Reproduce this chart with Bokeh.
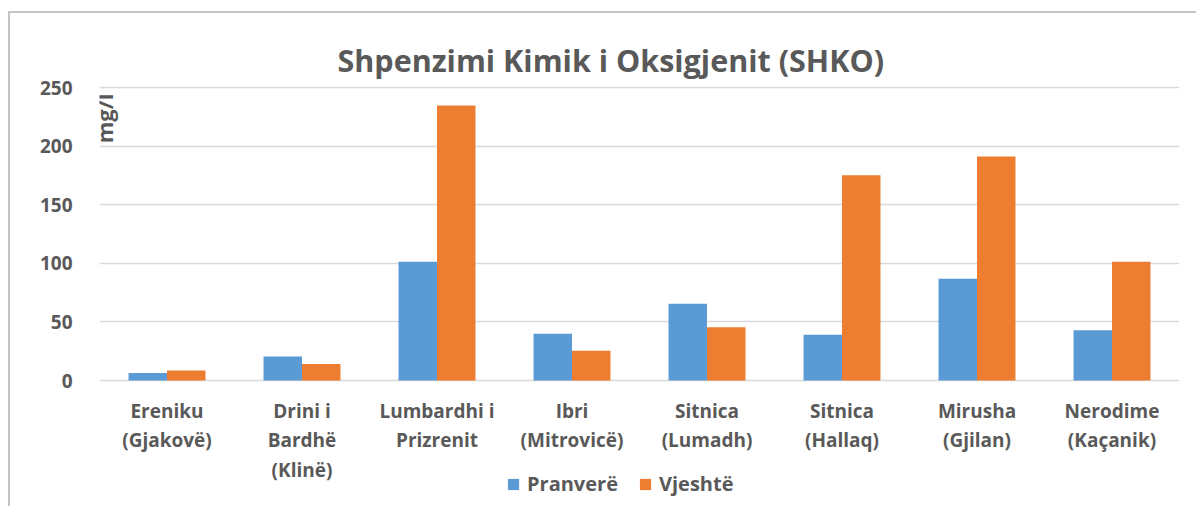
from bokeh.plotting import figure
from bokeh.models import (Range1d, FixedTicker, Legend, LegendItem, Label,
                          ColumnDataSource)
from bokeh.embed import file_html
from bokeh.resources import INLINE
import math

categories = ["Ereniku\n(Gjakovë)", "Drini i\nBardhë\n(Klinë)", "Lumbardhi i\nPrizrenit",
              "Ibri\n(Mitrovicë)", "Sitnica\n(Lumadh)", "Sitnica\n(Hallaq)",
              "Mirusha\n(Gjilan)", "Nerodime\n(Kaçanik)"]
pranvere = [6.5, 20.5, 101.5, 40, 65.5, 39, 87, 43]
vjeshte = [8.5, 14, 235, 25.5, 45.5, 175.5, 191.5, 101.5]
series_names = ["Pranverë", "Vjeshtë"]
y_ticks = [0, 50, 100, 150, 200, 250]
title_text = "Shpenzimi Kimik i Oksigjenit (SHKO)"
y_label = "mg/l"

FONT = "Open Sans"
TXT = "#595959"
BLUE = "#5b9bd5"
ORANGE = "#ed7d31"
BORDER = "#c4c4c4"

n = len(categories)
centers = [i + 0.5 for i in range(n)]
bw = 0.285
src = ColumnDataSource(dict(
    xb=[c - bw / 2 for c in centers], xo=[c + bw / 2 for c in centers],
    pb=pranvere, vo=vjeshte))

# plot area extends below zero so that the category labels and legend sit inside it
px_per_unit = 1.1702
y_top = 252.1
y_bottom = -(506 - 380) / px_per_unit

p = figure(output_backend="svg", toolbar_location=None,
           frame_width=1080, frame_height=421,
           min_border_left=99, min_border_right=17,
           min_border_top=85, min_border_bottom=0,
           x_range=Range1d(0, n), y_range=Range1d(y_bottom, y_top))
p.outline_line_color = None
p.background_fill_color = "white"
p.border_fill_color = None
p.styles = {
    "background": (f"linear-gradient({BORDER},{BORDER}) 8px 11px / 2px 3000px no-repeat, "
                   f"linear-gradient({BORDER},{BORDER}) 8px 11px / 3000px 2px no-repeat, white"),
}

rb = p.vbar(x="xb", top="pb", bottom=0, width=bw, source=src, fill_color=BLUE, line_color=None)
ro = p.vbar(x="xo", top="vo", bottom=0, width=bw, source=src, fill_color=ORANGE, line_color=None)

# title
p.title.text = title_text
p.title.align = "left"
p.title.offset = 238
p.title.standoff = 9
p.title.text_font = FONT
p.title.text_font_style = "bold"
p.title.text_font_size = "30.5px"
p.title.text_color = TXT

# axes
p.xaxis.fixed_location = 0
p.xaxis.ticker = FixedTicker(ticks=centers)
p.xaxis.major_label_overrides = {c: lab for c, lab in zip(centers, categories)}
p.xaxis.axis_line_color = None
p.xaxis.major_tick_line_color = None
p.xaxis.minor_tick_line_color = None
p.xaxis.major_label_text_font = FONT
p.xaxis.major_label_text_font_style = "bold"
p.xaxis.major_label_text_font_size = "19px"
p.xaxis.major_label_text_color = TXT
p.xaxis.major_label_text_line_height = 1.15
p.xaxis.major_label_standoff = 11

p.yaxis.ticker = FixedTicker(ticks=y_ticks)
p.yaxis.axis_line_color = None
p.yaxis.major_tick_line_color = None
p.yaxis.minor_tick_line_color = None
p.yaxis.major_label_text_font = FONT
p.yaxis.major_label_text_font_style = "bold"
p.yaxis.major_label_text_font_size = "19px"
p.yaxis.major_label_text_color = TXT
p.yaxis.major_label_standoff = 21

p.xgrid.grid_line_color = None
p.ygrid.grid_line_color = "#d9d9d9"
p.ygrid.grid_line_width = 1.5

# axis title (inside the plot area, as in the reference)
p.add_layout(Label(x=0.03, y=224, text=y_label, angle=math.pi / 2,
                   text_align="center", text_baseline="middle", text_font=FONT,
                   text_font_style="bold", text_font_size="22px", text_color=TXT))

legend = Legend(items=[LegendItem(label=series_names[0], renderers=[rb]),
                       LegendItem(label=series_names[1], renderers=[ro])],
                location=(407, 9), orientation="horizontal",
                padding=0, margin=0, spacing=20, label_standoff=7,
                glyph_width=14, glyph_height=14,
                border_line_color=None, background_fill_alpha=0,
                label_text_font=FONT, label_text_font_style="bold",
                label_text_font_size="20px", label_text_color=TXT)
p.add_layout(legend)

open("out.html", "w").write(file_html(p, INLINE))
